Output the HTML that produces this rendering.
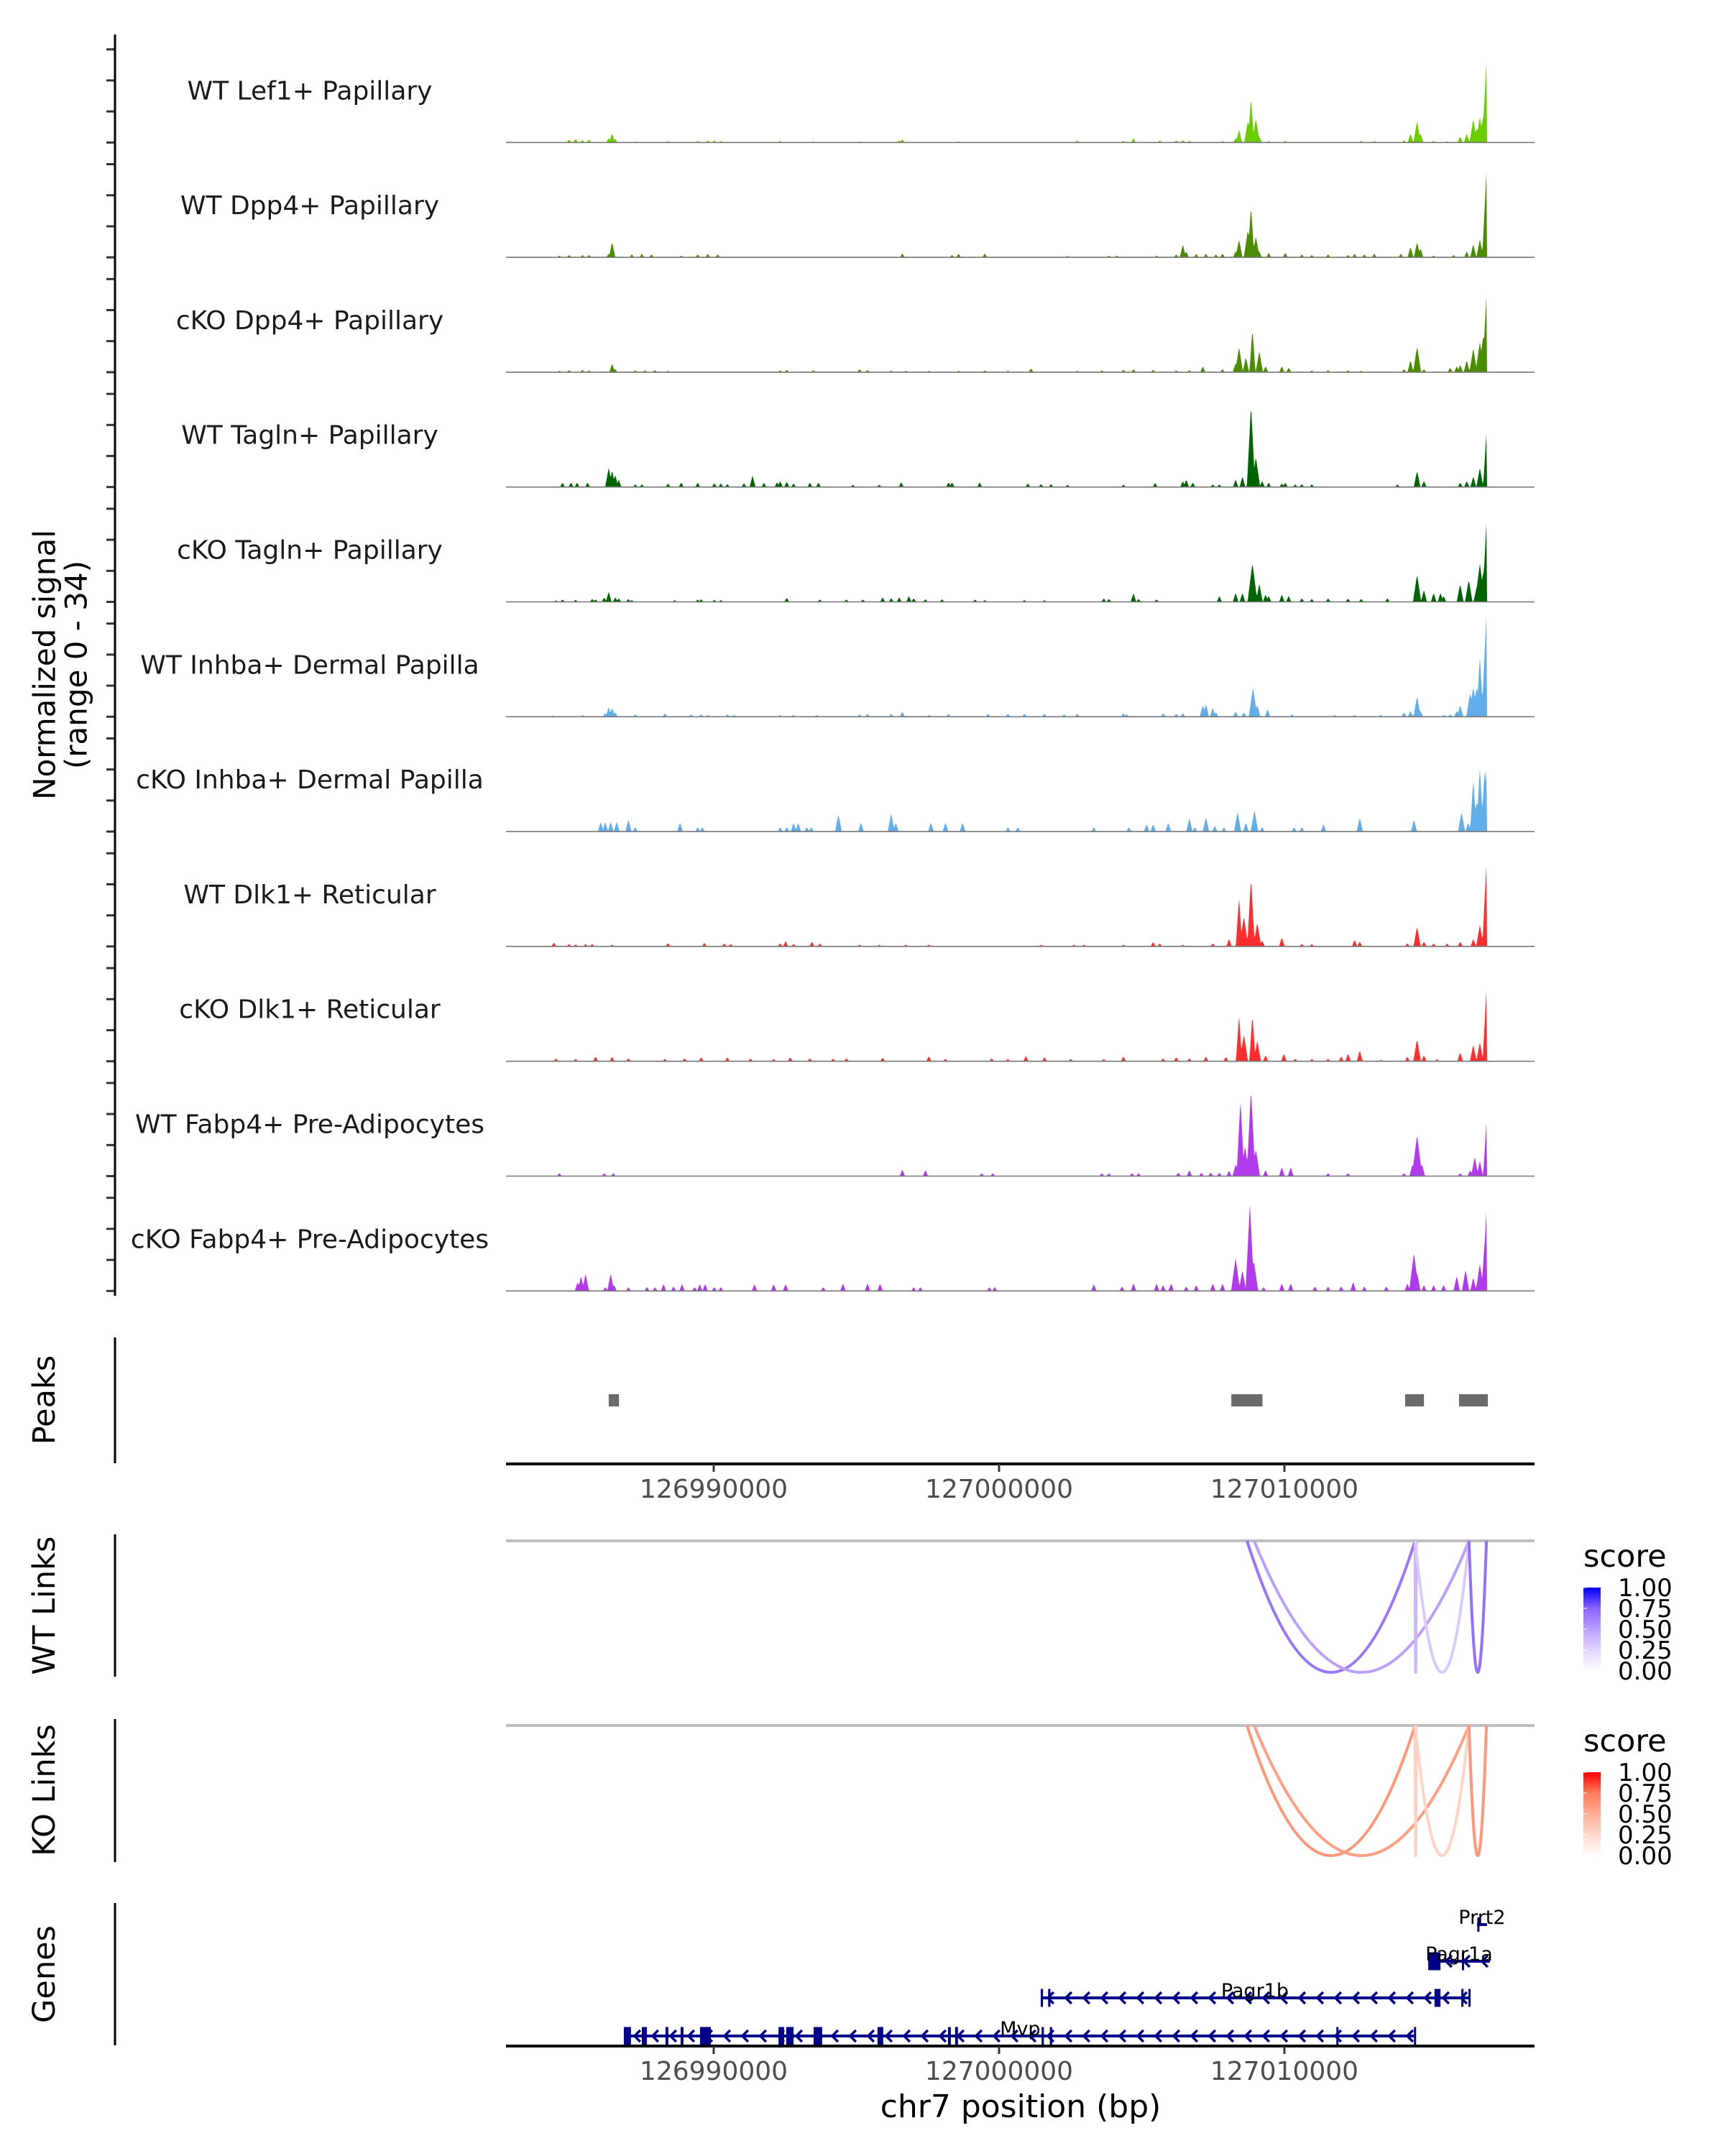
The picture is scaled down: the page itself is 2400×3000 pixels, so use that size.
<!DOCTYPE html>
<html><head><meta charset="utf-8">
<style>
html,body{margin:0;padding:0;background:#fff;}
svg{display:block;}
text{font-family:"DejaVu Sans","Liberation Sans",sans-serif;}
</style></head>
<body>
<svg id="fig" width="2400" height="3000" viewBox="0 0 2400 3000" xmlns="http://www.w3.org/2000/svg">
  <rect x="0" y="0" width="2400" height="3000" fill="#fff"/>
  <g id="cov"></g>
  <line x1="160" y1="48" x2="160" y2="1803" stroke="#000" stroke-width="3"/>
  <text transform="translate(62,925) rotate(-90)" text-anchor="middle" dominant-baseline="central" font-size="42" fill="#000">Normalized signal</text>
  <text transform="translate(106,925) rotate(-90)" text-anchor="middle" dominant-baseline="central" font-size="42" fill="#000">(range 0 - 34)</text>

  <g id="peaks"></g>
  <line x1="160" y1="1861" x2="160" y2="2036" stroke="#000" stroke-width="3"/>
  <text transform="translate(62,1948) rotate(-90)" text-anchor="middle" dominant-baseline="central" font-size="43" fill="#000">Peaks</text>

  <g id="wtlinks"></g>
  <line x1="160" y1="2135" x2="160" y2="2333" stroke="#000" stroke-width="3"/>
  <text transform="translate(62,2234) rotate(-90)" text-anchor="middle" dominant-baseline="central" font-size="43" fill="#000">WT Links</text>

  <g id="kolinks"></g>
  <line x1="160" y1="2392" x2="160" y2="2591" stroke="#000" stroke-width="3"/>
  <text transform="translate(62,2491) rotate(-90)" text-anchor="middle" dominant-baseline="central" font-size="43" fill="#000">KO Links</text>

  <g id="genes"></g>
  <line x1="160" y1="2648" x2="160" y2="2846" stroke="#000" stroke-width="3"/>
  <text transform="translate(62,2747) rotate(-90)" text-anchor="middle" dominant-baseline="central" font-size="43" fill="#000">Genes</text>

  <text x="1420" y="2946" text-anchor="middle" font-size="44" fill="#000">chr7 position (bp)</text>

  <defs>
    <linearGradient id="gWT" x1="0" y1="1" x2="0" y2="0">
      <stop offset="0" stop-color="#ffffff"/><stop offset="0.25" stop-color="#e2d6ff"/>
      <stop offset="0.5" stop-color="#bba0ff"/><stop offset="0.75" stop-color="#8c64ff"/>
      <stop offset="1" stop-color="#0000ff"/>
    </linearGradient>
    <linearGradient id="gKO" x1="0" y1="1" x2="0" y2="0">
      <stop offset="0" stop-color="#ffffff"/><stop offset="0.25" stop-color="#ffd9cc"/>
      <stop offset="0.5" stop-color="#ffae96"/><stop offset="0.75" stop-color="#ff7c5c"/>
      <stop offset="1" stop-color="#ff0000"/>
    </linearGradient>
  </defs>
  <g id="legends"></g>
</svg>
<script>
// ---------- data ----------
// positions in kb offset from chr7:126,980,000
const trackNames = ["WT Lef1+ Papillary","WT Dpp4+ Papillary","cKO Dpp4+ Papillary","WT Tagln+ Papillary","cKO Tagln+ Papillary","WT Inhba+ Dermal Papilla","cKO Inhba+ Dermal Papilla","WT Dlk1+ Reticular","cKO Dlk1+ Reticular","WT Fabp4+ Pre-Adipocytes","cKO Fabp4+ Pre-Adipocytes"];
const wtLef1 = [[4.93,1],[5.16,1.2],[5.40,0.8],[5.63,1],[6.32,1.5],[6.44,3.1],[6.55,1.2],[7.25,0.4],[8.40,0.5],[9.44,0.6],[9.79,0.7],[10.02,0.7],[10.25,0.5],[12.33,0.6],[13.49,0.4],[15.11,0.4],[16.50,0.7],[16.61,1.1],[18.58,0.4],[20.31,0.3],[22.74,0.7],[24.36,0.6],[24.71,1.4],[25.63,0.7],[26.21,0.7],[26.44,0.8],[26.67,0.6],[27.83,0.5],[28.29,1.5],[28.41,4.3],[28.72,7],[28.83,15],[29.00,8],[29.12,2],[29.45,0.5],[30.03,0.6],[31.53,0.3],[32.69,0.6],[33.15,0.5],[34.19,0.8],[34.42,3],[34.65,7.1],[34.77,3],[35.23,0.6],[35.70,0.4],[36.16,2],[36.39,3],[36.62,7.7],[36.74,5],[36.85,8.5],[36.97,9],[37.08,27]];
const wtDpp4 = [[4.59,0.6],[4.93,0.8],[5.40,0.8],[5.63,0.8],[6.32,1.2],[6.44,5.1],[7.13,1],[7.48,1.2],[7.82,1],[8.86,0.6],[9.44,1],[9.79,1.2],[10.14,1],[16.61,1.3],[18.35,0.8],[18.58,1.2],[19.50,1.3],[22.40,0.5],[23.85,0.6],[24.13,0.6],[25.52,0.6],[26.21,1],[26.44,4.3],[26.56,2],[26.91,1.2],[27.25,1.2],[27.60,1],[27.83,1.2],[28.29,2],[28.41,5.9],[28.72,9],[28.83,17],[29.00,7],[29.12,2],[29.45,1.5],[30.03,1.5],[30.61,1],[30.96,0.8],[31.53,1],[32.23,0.8],[32.46,1.2],[32.80,1],[33.15,1.2],[34.08,1.2],[34.42,3.5],[34.65,5.1],[34.77,3],[35.23,0.6],[35.93,0.8],[36.39,2],[36.62,4.4],[36.85,6],[37.08,28.4]];
const ckoDpp4 = [[4.59,0.5],[4.93,0.7],[5.40,0.8],[5.63,0.6],[6.44,2.9],[6.55,1],[7.25,0.6],[7.59,0.6],[7.94,0.7],[8.40,0.5],[12.33,0.6],[12.56,0.8],[13.49,0.7],[15.11,1],[15.39,0.7],[16.22,0.5],[16.73,0.5],[17.54,0.5],[18.58,0.5],[19.50,0.6],[20.31,0.5],[21.12,1.3],[22.74,0.5],[23.60,0.6],[24.36,0.8],[24.71,1],[25.40,0.8],[26.21,0.6],[26.67,0.7],[27.14,2],[27.83,1],[28.29,3],[28.41,8.3],[28.65,5],[28.88,14.4],[29.12,7],[29.34,2],[29.91,2],[30.15,1.5],[30.96,0.6],[31.53,0.7],[32.23,0.6],[32.69,0.5],[34.19,1],[34.42,4],[34.65,8.6],[34.89,1],[35.81,1.5],[36.04,2],[36.16,2.5],[36.39,4],[36.62,8],[36.85,10],[36.97,12],[37.08,25.4]];
const wtTagln = [[4.70,1.5],[5.00,1.5],[5.21,1.5],[5.58,1.5],[6.32,6.4],[6.44,5.5],[6.55,4],[6.67,2.5],[7.25,0.9],[7.48,0.9],[8.40,1.2],[8.86,1.5],[9.44,1.5],[10.02,1.3],[10.25,1.2],[10.48,1],[11.06,1.3],[11.36,3.8],[11.76,1.4],[12.22,1.6],[12.33,2],[12.56,1.8],[12.80,1.2],[13.37,1.5],[13.67,1.5],[14.88,0.8],[15.80,0.8],[16.57,1.6],[18.23,1.6],[18.35,1.6],[19.32,1.5],[21.01,1.2],[21.47,1],[21.82,1],[22.40,0.8],[24.36,0.8],[25.47,1.4],[26.44,2],[26.56,2.5],[26.79,1.5],[27.49,0.9],[27.72,0.9],[28.29,2.5],[28.53,3.5],[28.83,27.4],[29.00,10],[29.22,2],[29.45,1.5],[29.91,1.2],[30.03,1.5],[30.38,0.9],[30.61,1],[30.96,0.9],[33.96,0.9],[34.65,5.4],[34.89,2],[36.16,1.5],[36.39,2],[36.62,3.5],[36.85,6.3],[37.08,17.9]];
const ckoTagln = [[4.47,0.5],[4.70,0.8],[5.16,0.7],[5.74,1],[5.86,0.8],[6.16,1.5],[6.32,3.4],[6.55,1.5],[6.67,1.2],[7.01,1],[7.13,0.6],[8.63,0.6],[9.44,0.8],[9.56,0.9],[10.02,0.7],[10.25,0.6],[12.56,1.4],[13.72,0.8],[14.65,0.8],[15.23,0.8],[15.92,1.5],[16.22,1.3],[16.50,1.5],[16.84,2],[17.01,1.2],[17.42,0.9],[18.00,0.9],[19.16,0.8],[19.50,0.6],[20.89,0.6],[21.59,0.6],[23.67,1.2],[23.85,1],[24.71,2.9],[24.89,1],[25.52,0.8],[27.72,2],[28.29,3],[28.53,3],[28.88,12.9],[29.12,6],[29.34,2.5],[29.45,2],[29.91,2.5],[30.15,2],[30.61,1.2],[30.96,1],[31.53,1.2],[32.23,1.1],[32.69,1],[33.61,1.2],[34.65,9.1],[34.89,4],[35.23,3],[35.47,3],[35.58,2],[36.16,6],[36.46,7.4],[36.74,5],[36.85,12.7],[36.97,10],[37.08,26.3]];
const wtInhba = [[4.35,0.4],[5.40,0.6],[6.20,1.2],[6.32,3.2],[6.44,3],[6.55,1.5],[7.25,0.8],[8.29,1.1],[9.21,0.8],[9.56,0.8],[9.79,0.6],[10.48,0.8],[10.71,0.6],[12.33,0.6],[12.80,0.6],[13.61,0.6],[15.11,0.8],[15.39,1],[16.22,1],[16.61,1.7],[17.54,0.6],[18.23,1],[19.62,1],[20.31,1],[20.89,1],[21.59,1],[22.28,0.8],[22.74,1],[24.36,1.2],[24.48,0.8],[25.75,1.2],[26.21,1],[26.44,1.2],[27.14,4],[27.25,4.3],[27.49,3],[27.60,1.5],[28.29,1.8],[28.58,1.5],[28.90,9.7],[29.05,4],[29.41,2.5],[30.27,0.8],[31.76,0.6],[32.46,0.6],[33.38,0.6],[34.19,1.5],[34.42,2],[34.65,6.8],[34.77,2],[35.58,0.6],[35.81,0.8],[36.04,2],[36.16,3.9],[36.51,8],[36.62,10],[36.74,10],[36.85,19.8],[37.02,13],[37.08,34]];
const ckoInhba = [[6.04,3.2],[6.20,3.2],[6.39,3.2],[6.60,3.2],[7.01,4],[7.25,1.5],[8.82,3],[9.44,1.5],[9.60,1.5],[12.33,1.5],[12.56,1.5],[12.80,3],[12.96,3],[13.26,1.5],[13.42,1.5],[14.37,5.8],[15.16,3],[16.22,6],[16.38,3],[17.61,3],[18.12,3],[18.72,3],[20.31,1.5],[20.66,1.5],[23.32,1.5],[24.55,1.5],[25.17,2.5],[25.40,2.5],[25.93,3],[26.67,4.5],[26.86,1.5],[27.25,4.8],[27.56,2],[27.88,1.5],[28.36,6.5],[28.65,3],[28.95,7.2],[29.22,1.5],[30.34,1.5],[30.61,1.5],[31.37,2.5],[32.64,4.6],[34.54,4],[36.21,6.5],[36.44,3],[36.58,3],[36.62,17.3],[36.74,10],[36.85,21],[37.02,21],[37.08,21]];
const wtDlk1 = [[4.40,1.3],[4.93,0.8],[5.16,0.7],[5.51,0.8],[5.74,0.8],[6.44,0.6],[8.40,1.1],[9.67,1.2],[10.37,1],[10.60,0.8],[12.33,1],[12.52,1.8],[12.80,0.8],[13.44,1.6],[13.72,1],[15.11,0.6],[15.80,0.6],[16.73,0.6],[17.54,0.6],[21.47,0.6],[22.63,0.6],[22.97,0.6],[24.36,0.6],[25.40,1.5],[25.63,1],[26.44,0.6],[27.49,1],[28.06,2.5],[28.41,16.3],[28.58,10],[28.83,22.8],[29.05,8],[29.22,2],[29.91,3],[30.61,0.8],[30.96,0.8],[32.46,2.2],[32.64,1.6],[34.31,1],[34.65,6.6],[34.89,1.6],[35.23,1],[35.70,1],[36.16,1.6],[36.62,2.5],[36.85,7.2],[37.08,27.1]];
const ckoDlk1 = [[4.47,1],[5.16,0.8],[5.86,1.6],[6.44,1.5],[7.01,1],[8.29,0.8],[8.98,1],[9.56,1.4],[10.48,1.3],[11.29,0.9],[12.10,0.8],[12.68,1.3],[13.37,1],[14.18,0.9],[14.65,1],[15.92,1.2],[17.54,1.7],[18.12,0.8],[19.74,1],[20.31,0.8],[20.94,1.8],[21.59,1.4],[22.51,0.8],[23.67,0.8],[24.36,1.6],[25.75,1],[26.21,1.4],[26.67,1],[27.25,1.6],[27.95,1.5],[28.41,15.2],[28.58,9],[28.88,15.4],[29.05,7],[29.34,2],[29.98,2.5],[30.38,0.8],[30.96,0.8],[31.53,0.8],[31.99,1.6],[32.23,2.6],[32.64,3.6],[33.38,0.5],[34.31,1.5],[34.65,7.4],[34.89,2],[35.35,0.7],[36.16,3],[36.62,5.5],[36.85,6.3],[37.08,23.7]];
const wtFabp4 = [[4.59,1],[6.16,1],[6.48,1],[16.61,2.2],[17.42,2],[19.39,1],[19.78,1],[23.60,1],[23.85,1],[24.66,1],[24.89,1],[26.28,1.2],[26.67,2],[27.09,1.2],[27.42,1.2],[27.72,1.2],[28.06,1.8],[28.29,4],[28.46,25],[28.62,10],[28.83,29],[29.00,9],[29.34,2],[29.91,3],[30.22,3],[31.53,1],[32.23,1],[34.19,1],[34.49,4],[34.65,13.7],[34.82,4],[36.16,1],[36.51,2],[36.67,6.5],[36.85,5],[37.08,17.9]];
const ckoFabp4 = [[5.23,3],[5.35,5],[5.51,5.8],[6.20,1.3],[6.39,5.8],[6.51,2],[7.01,1.3],[7.66,1.3],[7.94,1.3],[8.24,2.3],[8.59,1.5],[8.89,2.3],[9.33,1.3],[9.51,2.3],[9.70,2.3],[10.02,1.3],[10.25,1.3],[11.43,2.3],[12.10,2.3],[12.52,2.3],[13.84,1.3],[14.53,2.5],[15.39,2.5],[15.83,2.5],[17.01,1.3],[17.24,1.3],[19.66,1.3],[19.85,1.3],[23.32,2.3],[24.31,1.5],[24.71,2.5],[25.52,2.5],[25.75,2],[26.03,2.5],[26.56,1.5],[26.91,2],[27.49,2.5],[27.83,2.5],[28.29,11],[28.53,7],[28.79,28.9],[28.93,10],[29.27,1.3],[29.91,2.5],[30.22,2.5],[31.07,1.5],[31.53,1.5],[31.99,1.5],[32.41,3],[32.80,1.5],[33.57,1.5],[34.31,2.5],[34.54,12.6],[34.65,6],[34.89,2],[35.23,2],[35.58,2],[36.04,5],[36.35,7],[36.62,4.5],[36.85,9],[37.02,17],[37.08,26.7]];

const peakStarts = [6.32, 28.14, 34.23, 36.12];
const peakEnds   = [6.68, 29.23, 34.89, 37.13];

const xTickValues = [10, 20, 30];
const xTickLabels = ["126990000","127000000","127010000"];

const wtLinkStart = [28.69, 28.94, 34.58, 34.58, 36.47];
const wtLinkEnd   = [34.58, 36.47, 34.62, 36.47, 37.08];
const wtLinkScore = [0.68, 0.50, 0.40, 0.30, 0.70];
const koLinkStart = [28.69, 28.94, 34.58, 34.58, 36.47];
const koLinkEnd   = [34.58, 36.47, 34.62, 36.47, 37.08];
const koLinkScore = [0.62, 0.58, 0.30, 0.28, 0.62];
const legendTicks = ["1.00","0.75","0.50","0.25","0.00"];

const geneNames  = ["Mvp","Pagr1b","Pagr1a","Prrt2"];
const geneStarts = [6.90, 21.46, 35.04, 36.75];
const geneEnds   = [34.58, 36.47, 37.20, 37.10];
const geneExons  = [
  [[6.85,7.10],[7.48,7.66],[8.31,8.41],[8.84,8.94],[9.52,9.90],[12.27,12.47],[12.54,12.80],[13.50,13.80],[15.74,15.94],[18.21,18.31],[18.46,18.56],[21.49,21.57],[21.78,21.86],[31.82,31.86],[34.54,34.58]],
  [[21.46,21.54],[21.72,21.80],[35.26,35.47],[36.20,36.25],[36.45,36.50]],
  [[35.04,35.47],[36.22,36.27]],
  [[36.76,36.80]]
];

// ---------- scales ----------
const SVGNS = "http://www.w3.org/2000/svg";
const X_LEFT = 704, X_RIGHT = 2135;
function xs(kb){ return 1390 + (kb - 20) * 39.7; }
const PX_PER_UNIT = 4.2;
const COV_END = 37.10;
function trackBase(i){ return 198.3 + 159.8 * i; }
const trackColors = ["#6acd00","#4c8c00","#4c8c00","#006400","#006400","#61aeeb","#61aeeb","#ff2e2e","#ff2e2e","#b13bea","#b13bea"];
const trackData = [wtLef1, wtDpp4, ckoDpp4, wtTagln, ckoTagln, wtInhba, ckoInhba, wtDlk1, ckoDlk1, wtFabp4, ckoFabp4];

function mk(tag, attrs, parent){
  const e = document.createElementNS(SVGNS, tag);
  for (const k in attrs) e.setAttribute(k, attrs[k]);
  parent.appendChild(e);
  return e;
}

// ---------- coverage tracks ----------
const cov = document.getElementById('cov');
trackData.forEach((data, i) => {
  const b = trackBase(i);
  const g = mk('g', {}, cov);
  
  
  for (let k = 0; k < 4; k++) {
    const t = mk('line', {x1:148, x2:160, y1:b - 43.2*k, y2:b - 43.2*k, stroke:'#333', 'stroke-width':3}, g);
    
    
  }
  const lab = mk('text', {x:431, y:b - 60, 'text-anchor':'middle', 'font-size':36, fill:'#1a1a1a'}, g);
  lab.textContent = trackNames[i];
  
  
  const xEnd = xs(COV_END);
  const vals = [];
  for (let x = X_LEFT; x <= X_RIGHT; x++) {
    let v = 0;
    if (x <= xEnd) {
      for (const [pos, h] of data) {
        const c = xs(pos), hw = h > 14 ? 2.5 + 0.12 * h : 3 + 0.3 * h;
        const d = Math.abs(x - c);
        if (d < hw) v = Math.max(v, h * (1 - d / hw));
      }
    }
    vals.push(v);
  }
  let d = `M${X_LEFT},${b}`;
  vals.forEach((v, j) => { d += `L${X_LEFT + j},${(b - v * PX_PER_UNIT).toFixed(1)}`; });
  d += `L${X_RIGHT},${b}Z`;
  const area = mk('path', {d:d, fill:trackColors[i]}, g);
  
  
  const bl = mk('line', {x1:X_LEFT, x2:X_RIGHT, y1:b, y2:b, stroke:'#777', 'stroke-width':1.6}, g);
  
  
});

// ---------- peaks ----------
const pk = document.getElementById('peaks');
peakStarts.forEach((s, i) => {
  const r = mk('rect', {x:xs(s), y:1940, width:xs(peakEnds[i]) - xs(s), height:17, fill:'#6b6b6b'}, pk);
  
  
});
function xAxis(parent, y, name){
  const a = mk('line', {x1:X_LEFT, x2:X_RIGHT, y1:y, y2:y, stroke:'#000', 'stroke-width':4}, parent);
  
  
  xTickValues.forEach((v, i) => {
    const t = mk('line', {x1:xs(v), x2:xs(v), y1:y, y2:y + 11, stroke:'#333', 'stroke-width':3}, parent);
    
    
    const l = mk('text', {x:xs(v), y:y + 47, 'text-anchor':'middle', 'font-size':36, fill:'#4d4d4d'}, parent);
    l.textContent = xTickLabels[i];
    
    
  });
}
xAxis(pk, 2037, 'peaks-x-axis');

// ---------- links ----------
function lerpColor(stops, s){
  for (let i = 0; i < stops.length - 1; i++) {
    const [a, ca] = stops[i], [b, cb] = stops[i+1];
    if (s >= a && s <= b) {
      const t = (s - a) / (b - a);
      const p = c => [parseInt(c.slice(1,3),16), parseInt(c.slice(3,5),16), parseInt(c.slice(5,7),16)];
      const A = p(ca), B = p(cb);
      return 'rgb(' + A.map((v, k) => Math.round(v + (B[k] - v) * t)).join(',') + ')';
    }
  }
  return stops[stops.length-1][1];
}
const wtStops = [[0,'#ffffff'],[0.25,'#e2d6ff'],[0.5,'#bba0ff'],[0.75,'#8c64ff'],[1,'#0000ff']];
const koStops = [[0,'#ffffff'],[0.25,'#ffd9cc'],[0.5,'#ffae96'],[0.75,'#ff7c5c'],[1,'#ff0000']];
function drawLinks(id, top, depth, starts, ends, scores, stops){
  const g = document.getElementById(id);
  const base = mk('line', {x1:X_LEFT, x2:X_RIGHT, y1:top, y2:top, stroke:'#bebebe', 'stroke-width':4}, g);
  
  
  starts.forEach((s, i) => {
    const x1 = xs(s), x2 = xs(ends[i]);
    const cy = top + depth * 2;
    const p = mk('path', {d:`M${x1},${top} Q${(x1 + x2) / 2},${cy} ${x2},${top}`, fill:'none', stroke:lerpColor(stops, scores[i]), 'stroke-width':4}, g);
    
    
  });
}
drawLinks('wtlinks', 2144, 183, wtLinkStart, wtLinkEnd, wtLinkScore, wtStops);
drawLinks('kolinks', 2401, 181, koLinkStart, koLinkEnd, koLinkScore, koStops);

// legends
const lg = document.getElementById('legends');
function legend(top, grad, name){
  const g = mk('g', {}, lg);
  
  
  const t = mk('text', {x:2203, y:top - 29, 'font-size':43, fill:'#000'}, g);
  t.textContent = 'score';
  
  
  const r = mk('rect', {x:2203, y:top, width:24, height:117, fill:`url(#${grad})`}, g);
  
  
  legendTicks.forEach((lab, i) => {
    const y = top + i * 29;
    const tk = mk('line', {x1:2203, x2:2208, y1:y, y2:y, stroke:'#fff', 'stroke-width':1}, g);
    
    
    const l = mk('text', {x:2251, y:y + 12, 'font-size':34, fill:'#000'}, g);
    l.textContent = lab;
    
    
  });
}
legend(2209, 'gWT', 'wt-score-legend');
legend(2466, 'gKO', 'ko-score-legend');

// ---------- genes ----------
const gn = document.getElementById('genes');
const geneRowY = [2833, 2780, 2729, 2678];
const geneColor = '#00008b';
geneNames.forEach((name, i) => {
  const y = geneRowY[i];
  const g = mk('g', {}, gn);
  
  
  const x1 = xs(geneStarts[i]), x2 = xs(geneEnds[i]);
  mk('line', {x1:x1, x2:x2, y1:y, y2:y, stroke:geneColor, 'stroke-width':4}, g);
  for (let x = x2 - 8; x > x1 + 6; x -= 25) {
    mk('path', {d:`M${x+5},${y-8} L${x-3},${y} L${x+5},${y+8}`, fill:'none', stroke:geneColor, 'stroke-width':3.5}, g);
  }
  const hh = i === 3 ? 10 : 12.5;
  geneExons[i].forEach(([a, b]) => {
    const ex = mk('rect', {x:xs(a), y:y - hh, width:Math.max(3, xs(b) - xs(a)), height:hh * 2, fill:geneColor}, g);
    
    
  });
  const lx = (x1 + x2) / 2;
  const l = mk('text', {x:lx, y:y - 1, 'text-anchor':'middle', 'font-size':27, fill:'#000'}, g);
  l.textContent = name;
  
  
});
xAxis(gn, 2847, 'genes-x-axis');
</script>
</body></html>
